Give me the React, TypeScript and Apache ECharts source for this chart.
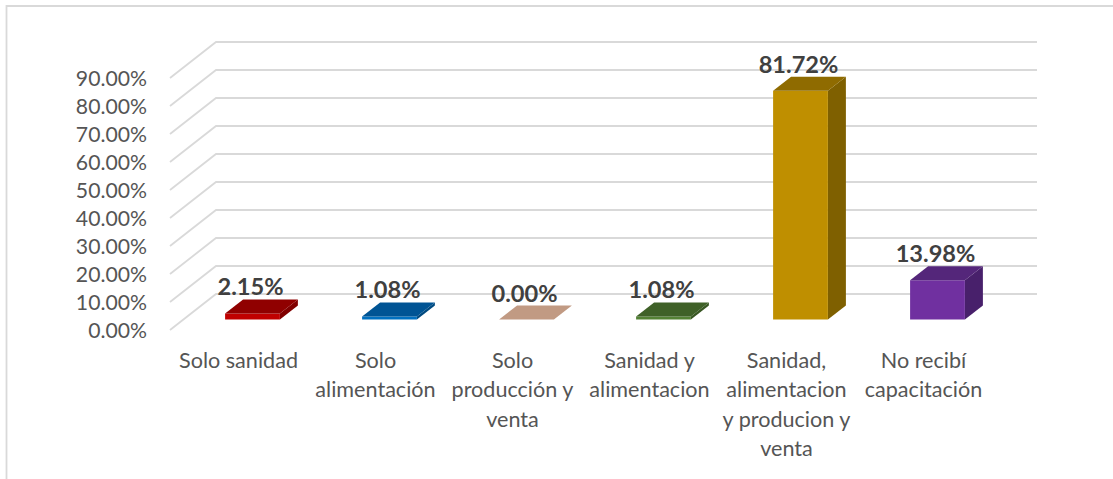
import React, { useEffect, useRef } from "react";
import * as echarts from "echarts";

const categories = [
  "Solo sanidad",
  "Solo\nalimentación",
  "Solo\nproducción y\nventa",
  "Sanidad y\nalimentacion",
  "Sanidad,\nalimentacion\ny producion y\nventa",
  "No recibí\ncapacitación",
];
const values = [2.15, 1.08, 0, 1.08, 81.72, 13.98];
const gridTicks = [0, 10, 20, 30, 40, 50, 60, 70, 80, 90];
const frontColors = ["#C00000", "#0070C0", "#C19A83", "#548235", "#BF8F00", "#7030A0"];
const topColors = ["#900000", "#005494", "#C19A83", "#3F6128", "#8F6B00", "#54267A"];
const sideColors = ["#800000", "#004A80", "#C19A83", "#385723", "#7F6000", "#48206B"];

const FONT = "Lato";
const WALL_DX = 46;
const WALL_DY = 36;
const BAR_SHIFT_X = 14;
const BAR_SHIFT_Y = 10.5;
const BAR_DX = 18;
const BAR_DY = 14;

export default function App() {
  const ref = useRef<HTMLDivElement>(null);
  useEffect(() => {
    document.body.style.margin = "0";
    document.body.style.overflow = "hidden";
    const chart = echarts.init(ref.current!, undefined, { renderer: "svg" });
    chart.setOption({
      animation: false,
      backgroundColor: "#ffffff",
      textStyle: { fontFamily: FONT },
      grid: { left: 170, right: 121, top: 78, bottom: 149, containLabel: false },
      graphic: [
        {
          type: "polyline",
          shape: { points: [[6.5, 479], [6.5, 6], [1113, 6]] },
          style: { stroke: "#D9D9D9", lineWidth: 1.8, fill: "none" },
          silent: true,
        },
      ],
      xAxis: {
        type: "category",
        data: categories,
        axisLine: { show: false },
        axisTick: { show: false },
        splitLine: { show: false },
        axisLabel: {
          interval: 0,
          margin: 15,
          fontFamily: FONT,
          fontSize: 21.6,
          lineHeight: 29.5,
          color: "#555555",
          align: "center",
          verticalAlign: "top",
        },
      },
      yAxis: {
        type: "value",
        min: 0,
        max: 90,
        interval: 10,
        axisLine: { show: false },
        axisTick: { show: false },
        splitLine: { show: false },
        axisLabel: {
          margin: 23,
          fontFamily: FONT,
          fontSize: 21.2,
          color: "#555555",
          formatter: (v: number) => v.toFixed(2) + "%",
        },
      },
      series: [
        {
          type: "custom",
          silent: true,
          z: 1,
          data: gridTicks.map((t) => [0, t]),
          renderItem: (params: any, api: any) => {
            const cs = params.coordSys;
            const y = api.coord([0, api.value(1)])[1];
            return {
              type: "polyline",
              shape: {
                points: [
                  [cs.x, y],
                  [cs.x + WALL_DX, y - WALL_DY],
                  [cs.x + cs.width + WALL_DX - 1, y - WALL_DY],
                ],
              },
              style: { stroke: "#D9D9D9", lineWidth: 1.8, fill: "none" },
            };
          },
        },
        {
          type: "custom",
          silent: true,
          z: 2,
          data: values.map((v, i) => [i, v]),
          renderItem: (params: any, api: any) => {
            const i = api.value(0);
            const v = api.value(1);
            const base = api.coord([i, 0]);
            const top = api.coord([i, v]);
            const w = api.size([1, 0])[0] * 0.4;
            const x0 = base[0] + BAR_SHIFT_X - w / 2;
            const x1 = x0 + w;
            const yb = base[1] - BAR_SHIFT_Y;
            const yt = top[1] - BAR_SHIFT_Y;
            const children: any[] = [];
            if (yb - yt > 0.01) {
              children.push({
                type: "polygon",
                shape: { points: [[x1, yb], [x1 + BAR_DX, yb - BAR_DY], [x1 + BAR_DX, yt - BAR_DY], [x1, yt]] },
                style: { fill: sideColors[i] },
              });
              children.push({
                type: "rect",
                shape: { x: x0, y: yt, width: w, height: yb - yt },
                style: { fill: frontColors[i] },
              });
            }
            children.push({
              type: "polygon",
              shape: { points: [[x0, yt], [x0 + BAR_DX, yt - BAR_DY], [x1 + BAR_DX, yt - BAR_DY], [x1, yt]] },
              style: { fill: topColors[i] },
            });
            children.push({
              type: "text",
              style: {
                text: v.toFixed(2) + "%",
                x: (x0 + x1) / 2 - 2,
                y: yt - 27,
                align: "center",
                verticalAlign: "middle",
                fontFamily: FONT,
                fontSize: 23.6,
                fontWeight: "bold",
                fill: "#404040",
              },
            });
            return { type: "group", children };
          },
        },
      ],
    });
    return () => chart.dispose();
  }, []);
  return <div ref={ref} style={{ width: 1113, height: 479 }} />;
}
